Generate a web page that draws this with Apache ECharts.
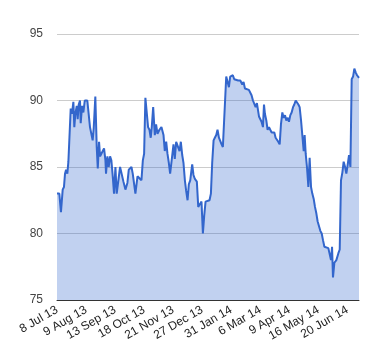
<!DOCTYPE html>
<html>
<head>
<meta charset="utf-8">
<script src="https://cdn.jsdelivr.net/npm/echarts@6/dist/echarts.min.js"></script>
<style>html,body{margin:0;padding:0;background:#fff;}#c{width:380px;height:360px;}</style>
</head>
<body>
<div id="c"></div>
<script>
// Trading-day index (0 = 8 Jul 13) for each sampled point
var days = [0,2,3.4,4.9,6,6.9,7.8,8.9,9.8,11.2,11.8,12.9,14.1,14.9,15.8,17,17.8,18.7,19.8,20.4,21.6,22.7,23.9,25,26.1,27.3,28.4,29.6,30.7,31.6,33,34.2,35.1,36.2,37.1,38.2,39.4,40.5,41.7,42.2,43.4,44.5,45.7,46.8,48,49.1,50.3,51.4,52.9,54.3,56,57.2,58.9,60.6,61.8,62.9,64.1,65.2,66.4,67.5,69.3,71,72.7,73.9,75,76.1,77.3,78.4,79.6,80.7,81.6,82.8,84.2,85.3,86.5,88.2,89.9,91.7,92.8,94,95.1,96.3,97.4,99.1,100.3,101.4,102.6,104.3,105.5,106.6,107.8,108.9,110.1,111.2,112.4,113.5,114.7,116.4,117.5,118.7,120.4,121.6,123.3,124.4,125.6,126.7,127.9,129.6,131.3,132.5,133.6,134.8,135.9,137.1,138.2,139.4,140.5,141.7,142.8,144.5,145.7,146.8,148,149.1,150.3,151.4,152.6,154.3,156,157.8,159.5,160.6,161.8,163.5,165.2,166.4,167.5,168.7,169.8,171,172.1,173.9,175,176.1,177.3,178.2,179,180.2,181.3,182.5,183.6,184.8,185.9,187.1,188.2,189.4,190.5,191.7,192.8,194,195.1,196.3,197.4,198.6,199.7,200.9,202,203.2,204.3,205.5,206.6,207.8,208.9,210.1,211.2,212.4,213.2,214.1,215.2,216.4,217.5,218.7,219.8,221,222.1,223.3,224.4,225.6,226.7,227.9,229,230.2,231.9,233.6,235.3,235.9,236.8,237.6,238.8,240.5,242.2,243.4,244.5,245.7,246.8,248,249.1,250.3,251.4,252.6,253.7,254.9,256,257.2,258.3,259.5,260];
var values = [83.0,83.0,81.6,83.3,83.5,84.5,84.8,84.5,85.4,85.4,89.4,89.0,89.9,88.0,89.0,89.6,88.6,89.7,90.0,88.3,89.6,89.1,90.0,90.1,90.0,90.1,88.0,87.9,87.0,87.9,90.3,86.5,84.9,86.9,85.8,86.0,85.9,86.4,85.5,84.5,85.8,85.0,85.8,85.5,84.3,83.0,85.0,83.0,83.1,85.0,85.0,83.9,83.3,83.8,84.8,84.8,85.0,84.5,84.4,83.0,84.3,84.3,84.0,85.5,86.0,90.2,90.1,88.0,87.8,87.2,88.0,89.5,87.4,88.2,87.5,87.8,88.0,87.4,86.2,86.9,86.0,85.3,84.5,84.5,86.7,85.6,86.9,86.9,86.2,86.9,85.9,85.3,84.0,83.2,82.5,83.7,84.0,85.2,84.4,84.1,83.9,82.0,82.0,82.4,80.0,81.3,82.4,82.5,82.5,83.0,85.3,87.0,87.2,87.4,87.8,87.2,87.3,86.7,86.5,86.5,91.8,91.8,91.0,91.8,91.7,91.9,91.6,91.5,91.5,91.5,91.2,91.4,90.9,90.8,90.8,90.7,90.4,90.0,89.9,89.5,89.8,88.8,88.9,88.4,88.0,89.7,89.0,88.5,87.8,88.0,87.8,87.6,87.5,87.6,87.2,87.1,86.9,86.7,88.2,89.1,88.7,88.9,88.5,88.7,88.4,88.9,89.1,89.5,89.7,90.0,90.0,89.7,89.5,88.5,87.4,86.2,87.4,86.0,85.0,83.5,85.7,83.5,83.0,82.6,82.0,81.5,80.9,80.8,80.2,80.0,79.5,79.0,79.0,78.9,78.9,78.0,79.0,76.7,77.8,78.0,78.5,78.8,84.0,84.6,85.4,85.0,84.5,85.2,85.9,85.0,91.6,91.8,92.4,92.1,91.9,91.8,91.7];
var tickLabels = ['8 Jul 13','9 Aug 13','13 Sep 13','18 Oct 13','21 Nov 13','27 Dec 13','31 Jan 14','6 Mar 14','9 Apr 14','16 May 14','20 Jun 14'];
var yTicks = [75, 80, 85, 90, 95];

var data = days.map(function (d, i) { return [d, values[i]]; });
var chart = echarts.init(document.getElementById('c'), null, {renderer: 'canvas'});
chart.setOption({
  animation: false,
  backgroundColor: '#fff',
  grid: {left: 57, right: 21, top: 34, bottom: 60, containLabel: false},
  xAxis: {
    type: 'value', min: 0, max: 260, interval: 25,
    axisLine: {show: true, lineStyle: {color: '#333', width: 1}},
    axisTick: {show: false},
    splitLine: {show: false},
    axisLabel: {
      rotate: 30, margin: 9, color: '#222', fontFamily: 'Liberation Sans, Arial', fontSize: 12,
      showMaxLabel: false,
      formatter: function (v) { var k = Math.round(v / 25); return (Math.abs(v - k * 25) < 0.01 && tickLabels[k]) ? tickLabels[k] : ''; }
    }
  },
  yAxis: {
    type: 'value', min: yTicks[0], max: yTicks[yTicks.length - 1], interval: 5,
    axisLine: {show: false}, axisTick: {show: false},
    splitLine: {show: true, lineStyle: {color: '#cccccc', width: 1}},
    axisLabel: {margin: 14, color: '#444', fontFamily: 'Liberation Sans, Arial', fontSize: 12}
  },
  series: [{
    type: 'line', data: data, showSymbol: false, symbol: 'none',
    lineStyle: {color: '#3366cc', width: 2},
    itemStyle: {color: '#3366cc'},
    areaStyle: {color: '#3366cc', opacity: 0.3}
  }]
});
</script>
</body>
</html>
